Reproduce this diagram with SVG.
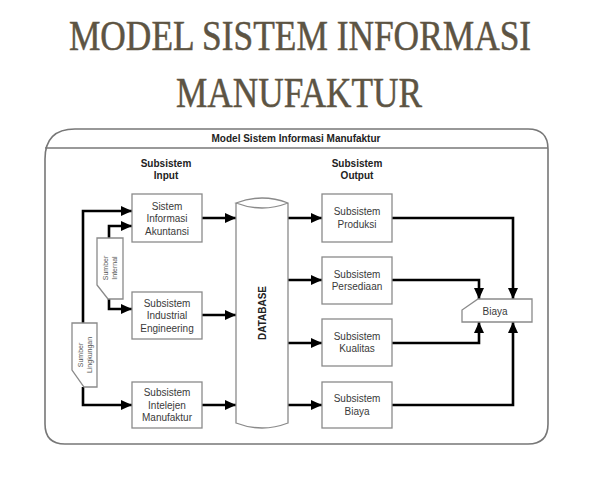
<svg xmlns="http://www.w3.org/2000/svg" width="590" height="479" viewBox="0 0 590 479">
<defs>
<marker id="ah" markerUnits="userSpaceOnUse" markerWidth="12" markerHeight="10" refX="11" refY="5" orient="auto">
<path d="M0,0 L11,5 L0,10 Z" fill="#000"/>
</marker>
<style>
.title{font-family:"Liberation Serif","DejaVu Serif",serif;font-size:42px;fill:#5d5443;stroke:#5d5443;stroke-width:0.5;text-anchor:middle}
.box{fill:#fff;stroke:#8a8a8a;stroke-width:1.3}
.frame{fill:#fff;stroke:#777;stroke-width:1.6}
.t{font-family:"Liberation Sans",Arial,sans-serif;font-size:10px;fill:#3a3a3a;text-anchor:middle}
.b{font-family:"Liberation Sans",Arial,sans-serif;font-size:10px;font-weight:bold;fill:#222;text-anchor:middle}
.s{font-family:"Liberation Sans",Arial,sans-serif;font-size:7px;fill:#555;text-anchor:middle}
.c{fill:none;stroke:#000;stroke-width:2.6;marker-end:url(#ah)}
</style>
</defs>
<rect width="590" height="479" fill="#fff"/>
<text class="title" transform="translate(300,50) scale(0.842,1)" x="0" y="0">MODEL SISTEM INFORMASI</text>
<text class="title" transform="translate(299,107) scale(0.84,1)" x="0" y="0">MANUFAKTUR</text>

<g id="frame">
<path class="frame" d="M75,129 H528 Q548,129 548,149 V424 Q548,444 528,444 H65 Q45,444 45,424 V159 Q45,129 75,129 Z"/>
<line x1="45" y1="148" x2="548" y2="148" stroke="#777" stroke-width="1.4"/>
<text class="b" x="296" y="142">Model Sistem Informasi Manufaktur</text>
<text class="b" x="166" y="167">Subsistem</text>
<text class="b" x="166" y="179">Input</text>
<text class="b" x="357" y="167">Subsistem</text>
<text class="b" x="357" y="179">Output</text>
</g>

<g id="connectors">
<path class="c" d="M83,323 V211 H132"/>
<path class="c" d="M83,387 V405 H132"/>
<path class="c" d="M109,238 V226 H132"/>
<path class="c" d="M109,299 V309 H132"/>
<path class="c" d="M202,218 H236"/>
<path class="c" d="M202,315 H236"/>
<path class="c" d="M202,405 H236"/>
<path class="c" d="M288,218 H322"/>
<path class="c" d="M288,280 H322"/>
<path class="c" d="M288,343 H322"/>
<path class="c" d="M288,405 H322"/>
<path class="c" d="M392,218 H513 V299"/>
<path class="c" d="M392,280 H479 V299"/>
<path class="c" d="M392,343 H479 V322"/>
<path class="c" d="M392,405 H513 V322"/>
</g>

<g id="sumber-lingkungan">
<path class="box" d="M72,323 H97 V387 H84 L72,370 Z"/>
<text class="s" transform="translate(85,355) rotate(-90)"><tspan x="0" y="-2">Sumber</tspan><tspan x="0" y="7">Lingkungan</tspan></text>
</g>
<g id="sumber-internal">
<path class="box" d="M97,238 H123 V299 H108 L97,285 Z"/>
<text class="s" transform="translate(110,268) rotate(-90)"><tspan x="0" y="-2">Sumber</tspan><tspan x="0" y="7">Internal</tspan></text>
</g>

<g id="akuntansi">
<rect class="box" x="132" y="194" width="70" height="48"/>
<text class="t"><tspan x="167" y="209.5">Sistem</tspan><tspan x="167" y="222">Informasi</tspan><tspan x="167" y="234.5">Akuntansi</tspan></text>
</g>
<g id="industrial">
<rect class="box" x="132" y="292" width="70" height="47"/>
<text class="t"><tspan x="167" y="306.5">Subsistem</tspan><tspan x="167" y="319">Industrial</tspan><tspan x="167" y="331.5">Engineering</tspan></text>
</g>
<g id="intelejen">
<rect class="box" x="132" y="382" width="70" height="46"/>
<text class="t"><tspan x="167" y="396">Subsistem</tspan><tspan x="167" y="408.5">Intelejen</tspan><tspan x="167" y="421">Manufaktur</tspan></text>
</g>

<g id="database">
<path class="box" d="M236,203 V423 Q262,433 288,423 V203 Q262,193 236,203 Q262,213 288,203"/>
<text class="b" transform="translate(266,313) rotate(-90)">DATABASE</text>
</g>

<g id="produksi">
<rect class="box" x="322" y="194" width="70" height="48"/>
<text class="t"><tspan x="357" y="215">Subsistem</tspan><tspan x="357" y="227.5">Produksi</tspan></text>
</g>
<g id="persediaan">
<rect class="box" x="322" y="257" width="70" height="47"/>
<text class="t"><tspan x="357" y="277.5">Subsistem</tspan><tspan x="357" y="290">Persediaan</tspan></text>
</g>
<g id="kualitas">
<rect class="box" x="322" y="319" width="70" height="47"/>
<text class="t"><tspan x="357" y="339.5">Subsistem</tspan><tspan x="357" y="352">Kualitas</tspan></text>
</g>
<g id="biaya-sub">
<rect class="box" x="322" y="382" width="70" height="46"/>
<text class="t"><tspan x="357" y="402">Subsistem</tspan><tspan x="357" y="414.5">Biaya</tspan></text>
</g>

<g id="biaya">
<path class="box" d="M478,299 H532 V322 H462 V310 Z"/>
<text class="t" x="495" y="314.5">Biaya</text>
</g>
</svg>
